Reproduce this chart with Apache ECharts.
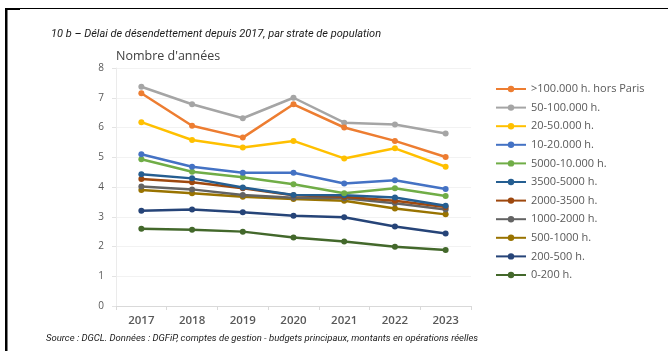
<!DOCTYPE html>
<html>
<head>
<meta charset="utf-8">
<script src="https://cdn.jsdelivr.net/npm/echarts@6/dist/echarts.min.js"></script>
<style>
  html, body { margin: 0; padding: 0; background: #fff; }
  #chart { width: 668px; height: 351px; }
</style>
</head>
<body>
<div id="chart"></div>
<script>
// annees
var years = ['2017', '2018', '2019', '2020', '2021', '2022', '2023'];

// strates (ordre de la legende)
var strates = ['>100.000 h. hors Paris', '50-100.000 h.', '20-50.000 h.', '10-20.000 h.', '5000-10.000 h.',
  '3500-5000 h.', '2000-3500 h.', '1000-2000 h.', '500-1000 h.', '200-500 h.', '0-200 h.'];

// nombre d'annees par strate
var s100k = [7.15, 6.06, 5.66, 6.78, 6.0, 5.55, 5.01];
var s50k = [7.37, 6.78, 6.31, 7.0, 6.16, 6.1, 5.8];
var s20k = [6.18, 5.58, 5.33, 5.55, 4.96, 5.3, 4.68];
var s10k = [5.1, 4.68, 4.48, 4.48, 4.12, 4.23, 3.93];
var s5000 = [4.93, 4.51, 4.33, 4.09, 3.79, 3.96, 3.7];
var s3500 = [4.43, 4.29, 3.98, 3.73, 3.72, 3.65, 3.37];
var s2000 = [4.27, 4.16, 3.96, 3.72, 3.67, 3.54, 3.33];
var s1000 = [4.02, 3.92, 3.73, 3.64, 3.62, 3.45, 3.24];
var s500 = [3.9, 3.79, 3.67, 3.6, 3.54, 3.28, 3.08];
var s200 = [3.2, 3.24, 3.15, 3.03, 2.98, 2.67, 2.44];
var s0 = [2.6, 2.56, 2.5, 2.3, 2.17, 1.99, 1.88];

var valeurs = [s100k, s50k, s20k, s10k, s5000, s3500, s2000, s1000, s500, s200, s0];
var couleurs = ['#ED7D31', '#A5A5A5', '#FFC000', '#4472C4', '#70AD47', '#255E91', '#9E480E', '#636363', '#997300', '#264478', '#43682B'];

var myChart = echarts.init(document.getElementById('chart'));

var series = strates.map(function (nom, i) {
    return {
        name: nom,
        type: 'line',
        data: valeurs[i],
        symbol: 'circle',
        symbolSize: 6,
        lineStyle: { width: 2.5, color: couleurs[i] },
        itemStyle: { color: couleurs[i] },
        z: 20 - i
    };
});

var option = {
    animation: false,
    backgroundColor: '#fff',
    title: {
        text: '10 b – Délai de désendettement depuis 2017, par strate de population',
        left: 46,
        top: 24,
        textStyle: { fontFamily: 'Roboto', fontStyle: 'italic', fontWeight: 'normal', fontSize: 11, color: '#1a1a1a' }
    },
    graphic: [
        { type: 'rect', shape: { x: 6, y: 8, width: 662, height: 1 }, style: { fill: '#000' } },
        { type: 'rect', shape: { x: 6, y: 8, width: 14, height: 2 }, style: { fill: '#000' } },
        { type: 'rect', shape: { x: 5, y: 8, width: 2.5, height: 343 }, style: { fill: '#000' } },
        {
            type: 'text', left: 46, top: 334,
            style: {
                text: 'Source : DGCL. Données : DGFiP, comptes de gestion - budgets principaux, montants en opérations réelles',
                font: 'italic 9.5px Roboto', fill: '#1a1a1a'
            }
        }
    ],
    legend: {
        orient: 'vertical',
        left: 490,
        top: 77,
        itemWidth: 30,
        itemHeight: 8,
        itemGap: 4.6,
        textStyle: { fontFamily: 'Open Sans', fontSize: 11, color: '#595959', lineHeight: 14 },
        data: strates
    },
    grid: { left: 116, right: 197, top: 68, bottom: 45 },
    xAxis: {
        type: 'category',
        data: years,
        boundaryGap: true,
        axisLine: { lineStyle: { color: '#D9D9D9' } },
        axisTick: { show: true, length: 4, lineStyle: { color: '#D9D9D9' } },
        axisLabel: { fontFamily: 'Open Sans', fontWeight: 600, fontSize: 11.5, color: '#595959', margin: 9 }
    },
    yAxis: {
        type: 'value',
        min: 0,
        max: 8,
        interval: 1,
        name: "Nombre d'années",
        nameLocation: 'end',
        nameGap: 5,
        nameTextStyle: { fontFamily: 'Open Sans', fontSize: 12.5, color: '#404040', align: 'left', padding: [0, 0, 0, 0] },
        axisLine: { show: true, lineStyle: { color: '#EBEBEB' } },
        axisTick: { show: true, length: 4, lineStyle: { color: '#E3E3E3' } },
        axisLabel: { fontFamily: 'Open Sans', fontSize: 10, color: '#595959', margin: 12 },
        splitLine: { lineStyle: { color: '#F2F2F2' } }
    },
    series: series
};
myChart.setOption(option);
</script>
</body>
</html>
